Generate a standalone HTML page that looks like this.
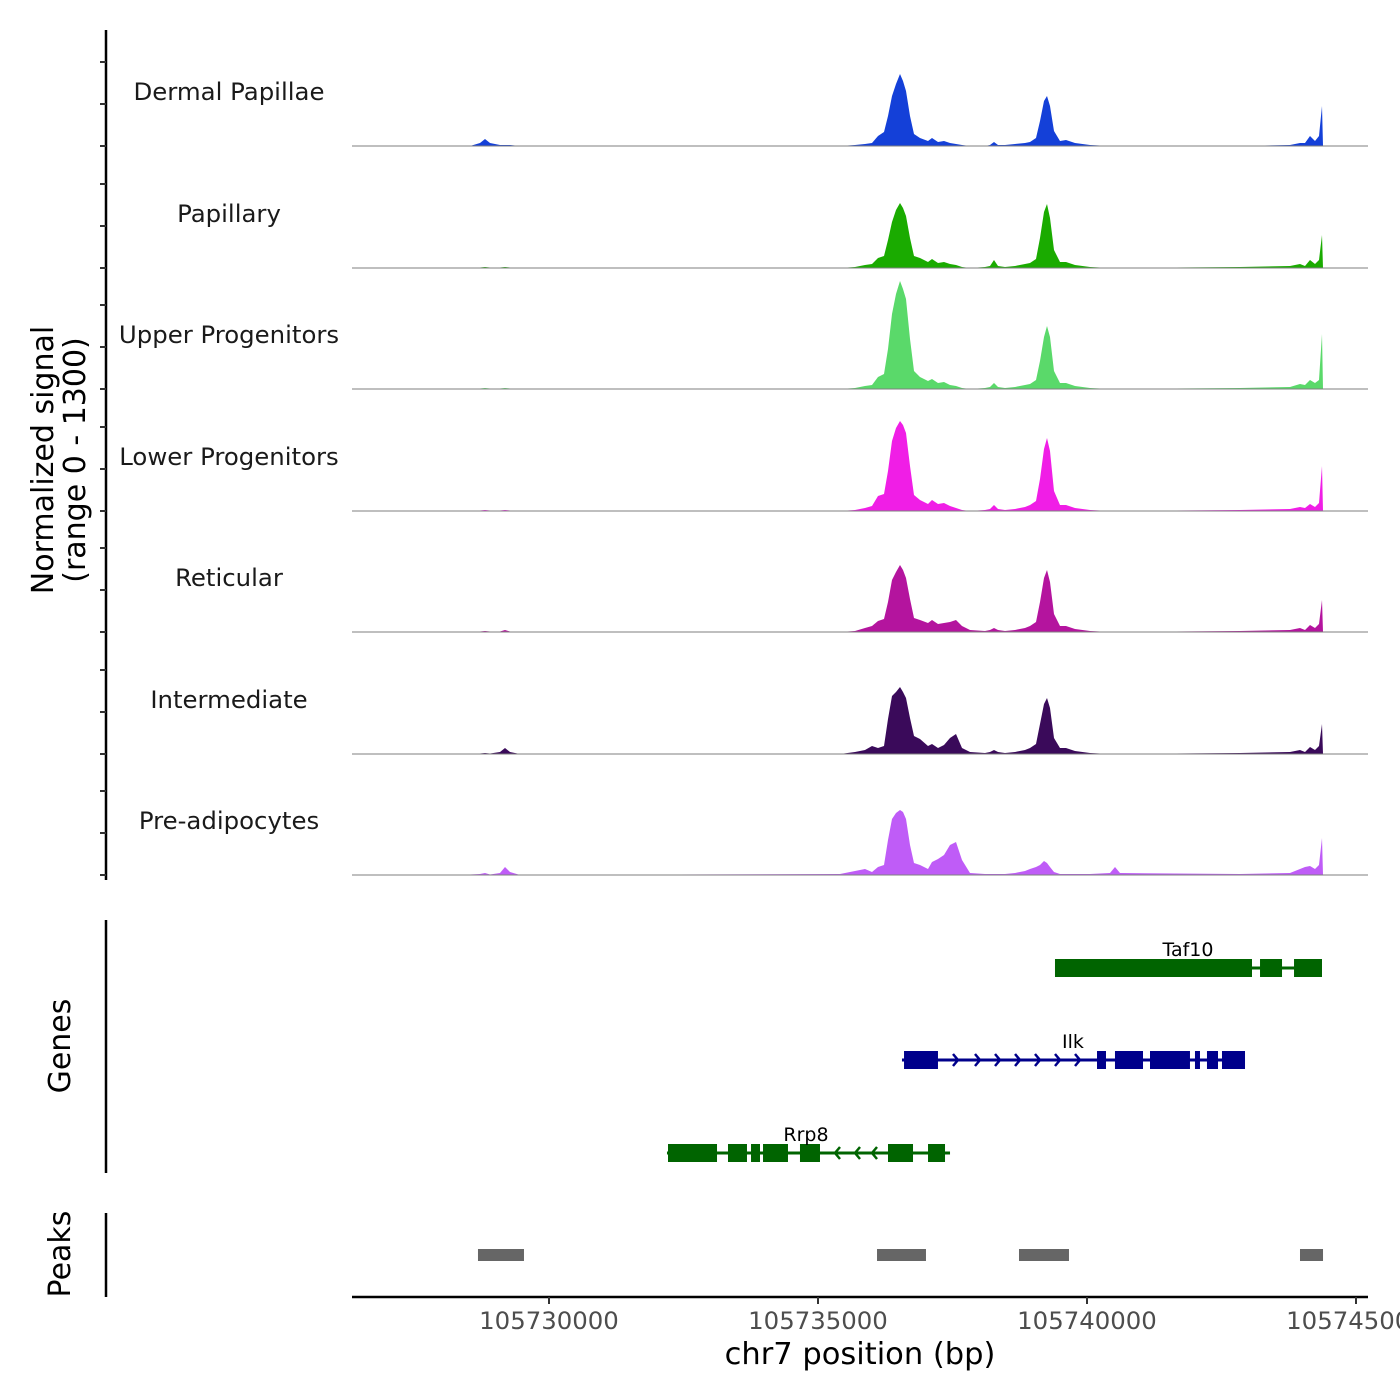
<!DOCTYPE html>
<html><head><meta charset="utf-8">
<style>
html,body{margin:0;padding:0;background:#fff;}
svg{display:block;font-family:"DejaVu Sans","Liberation Sans",sans-serif;}
</style></head>
<body>
<svg id="chart" width="1400" height="1400" viewBox="0 0 1400 1400" xmlns="http://www.w3.org/2000/svg">
<g id="tracks"></g>
<g id="genes"></g>
<g id="peaks"></g>
<g id="axes"></g>
</svg>
<script>
// ---- data (positions as bp offsets from 105730000) ----
const BASE = 105730000;
const positions = [-3662,-1468,-1283,-1190,-1097,-911,-818,-725,-539,5409,5688,5874,6004,6115,6227,6301,6375,6450,6524,6580,6636,6710,6784,6896,7045,7119,7230,7342,7454,7565,7677,7825,8104,8197,8271,8346,8476,8662,8848,8941,9052,9126,9201,9257,9312,9387,9498,9610,9777,10056,10428,10520,10613,12844,13773,13959,14052,14145,14238,14312,14368,14387,15223];
const trackNames = ["Dermal Papillae","Papillary","Upper Progenitors","Lower Progenitors","Reticular","Intermediate","Pre-adipocytes"];
const trackColors = ["#1440d8","#1aab00","#5ad96a","#f01ee6","#b4149e","#3a0a5a","#bf5cf7"];
const sigDermal = [0,0,30,70,30,10,10,10,0,0,10,20,30,100,140,300,500,620,720,650,550,300,120,80,50,80,40,50,30,20,10,0,0,10,40,10,10,20,30,40,80,250,450,500,400,150,50,60,30,10,0,0,0,0,10,30,30,100,50,100,400,0,0];
const sigPapillary = [0,0,5,10,5,5,10,5,0,0,10,30,40,100,120,280,460,580,650,600,520,300,120,100,60,90,50,60,40,30,10,0,10,20,80,20,10,20,40,50,90,300,560,640,500,180,60,60,30,10,0,0,0,10,20,40,20,80,40,80,330,0,0];
const sigUpper = [0,0,5,10,5,5,10,5,0,0,10,30,40,120,150,400,750,950,1080,1000,900,500,180,120,80,100,60,70,40,30,10,0,10,20,60,20,10,20,40,50,90,280,520,630,520,180,60,60,30,10,0,0,0,10,20,50,40,90,60,90,550,0,0];
const sigLower = [0,0,5,10,5,5,10,5,0,0,10,30,50,150,170,400,700,830,900,860,780,450,160,110,70,110,70,80,50,30,10,0,10,20,60,20,10,20,40,60,100,320,620,730,600,200,60,60,30,10,0,0,0,10,20,40,30,70,40,80,450,0,0];
const sigReticular = [0,0,5,10,5,5,20,5,0,0,10,40,60,110,130,300,520,600,670,620,540,330,140,120,90,120,80,90,100,120,60,20,10,20,40,20,10,20,40,60,100,300,540,620,500,180,60,60,30,10,0,0,0,10,20,40,20,70,40,80,320,0,0];
const sigIntermediate = [0,0,5,10,5,20,60,20,0,0,20,40,80,60,80,350,580,620,670,620,560,360,180,150,80,100,60,90,160,200,60,20,10,20,40,20,10,20,40,60,100,300,500,560,460,160,60,60,30,10,0,0,0,10,20,40,20,70,40,80,300,0,0];
const sigPreadip = [0,5,10,20,5,20,80,30,0,10,40,60,30,80,100,350,560,620,650,630,560,300,120,100,60,130,160,200,300,330,150,20,10,10,10,10,10,20,40,60,80,100,140,120,80,30,10,10,10,10,20,80,20,10,20,60,80,90,60,100,370,0,0];
const trackSignals = [sigDermal,sigPapillary,sigUpper,sigLower,sigReticular,sigIntermediate,sigPreadip];
const xTicks = [0,5000,10000,15000];
const xTickLabels = ["105730000","105735000","105740000","105745000"];
const peakStarts = [-1320,6097,8736,13959];
const peakEnds = [-465,7007,9665,14387];
const geneNames = ["Taf10","Ilk","Rrp8"];
const geneStarts = [9405,6561,2193];
const geneEnds = [14368,12937,7454];
const geneExons = [
  [[9405,13067],[13216,13625],[13848,14368]],
  [[6599,7230],[10186,10353],[10520,11041],[11171,11914],[12007,12100],[12230,12435],[12509,12937]],
  [[2212,3123],[3327,3680],[3755,3922],[3978,4442],[4665,5037],[6301,6766],[7045,7361]]
];
const geneArrows = [[],[7602,8011,8383,8755,9126,9498,9870],[5316,5688,6004]];
const geneStrand = ["+","+","-"];

// ---- scales ----
const NS = "http://www.w3.org/2000/svg";
const X0 = 352, X1 = 1368;
function xs(bp){ return 549 + bp*0.0538; }
const baselines = [146,268,389,511,632,754,875];
const TRACK_H = 121.5, YMAX = 1215;
function ys(v, b){ return b - v/YMAX*TRACK_H; }
function mk(tag, attrs, parent){ const e=document.createElementNS(NS,tag); for(const k in attrs) e.setAttribute(k,attrs[k]); parent.appendChild(e); return e; }

// ---- signal tracks ----
const tg = document.getElementById('tracks');
trackNames.forEach((name,i)=>{
  const b = baselines[i];
  const sig = trackSignals[i];
  let d = `M${xs(positions[0])},${b}`;
  positions.forEach((p,j)=>{ d += ` L${xs(p).toFixed(1)},${ys(sig[j],b).toFixed(1)}`; });
  d += ` L${xs(positions[positions.length-1])},${b} Z`;
  const a = mk('path',{d:d,fill:trackColors[i]},tg);
  
  
  const ln = mk('line',{x1:X0,x2:X1,y1:b,y2:b,stroke:'#7f7f7f','stroke-width':1},tg);
  
  
  const t = mk('text',{x:229,y:b-46,'text-anchor':'middle','font-size':24.4,fill:'#1a1a1a'},tg);
  t.textContent = name;
  
  
});

// ---- genes ----
const gg = document.getElementById('genes');
const geneY = [968,1060,1153];
const geneColors = ["#006400","#00008b","#006400"];
const labelX = [1188,1073,806];
geneNames.forEach((g,i)=>{
  const y = geneY[i], c = geneColors[i];
  const grp = mk('g',{},gg);
  
  
  mk('line',{x1:xs(geneStarts[i]),x2:xs(geneEnds[i]),y1:y,y2:y,stroke:c,'stroke-width':3},grp);
  geneExons[i].forEach(ex=>{
    const r = mk('rect',{x:xs(ex[0]),y:y-9,width:xs(ex[1])-xs(ex[0]),height:18,fill:c},grp);
    
    
  });
  geneArrows[i].forEach(p=>{
    const x = xs(p), dx = geneStrand[i]==='+'?5:-5;
    mk('polyline',{points:`${x-dx},${y-6} ${x},${y} ${x-dx},${y+6}`,fill:'none',stroke:c,'stroke-width':2.5},grp);
  });
  const lbl = mk('text',{x:labelX[i],y:y-12,'text-anchor':'middle','font-size':19,fill:'#000'},grp);
  lbl.textContent = g;
  
  
});

// ---- peaks ----
const pg = document.getElementById('peaks');
peakStarts.forEach((s,i)=>{
  const r = mk('rect',{x:xs(s),y:1249,width:xs(peakEnds[i])-xs(s),height:12,fill:'#666666'},pg);
  
  
});

// ---- axes ----
const ag = document.getElementById('axes');
mk('line',{x1:106,x2:106,y1:30,y2:880,stroke:'#000','stroke-width':2.5},ag);
baselines.forEach(b=>{
  [0,42,84].forEach(o=>{ mk('line',{x1:100,x2:106,y1:b-o,y2:b-o,stroke:'#333','stroke-width':2},ag); });
});
mk('line',{x1:106,x2:106,y1:920,y2:1173,stroke:'#000','stroke-width':2.5},ag);
mk('line',{x1:106,x2:106,y1:1213,y2:1297,stroke:'#000','stroke-width':2.5},ag);
mk('line',{x1:X0,x2:X1,y1:1297,y2:1297,stroke:'#000','stroke-width':2.5},ag);
xTicks.forEach((t,i)=>{
  const x = xs(t);
  mk('line',{x1:x,x2:x,y1:1297,y2:1304,stroke:'#333','stroke-width':2},ag);
  const tl = mk('text',{x:x,y:1329,'text-anchor':'middle','font-size':24.4,fill:'#4d4d4d'},ag);
  tl.textContent = xTickLabels[i];
  
  
});
</script>
<svg style="position:absolute;left:0;top:0" width="1400" height="1400">
<text x="860" y="1364" text-anchor="middle" font-size="30.5" font-family="DejaVu Sans, Liberation Sans, sans-serif" fill="#000">chr7 position (bp)</text>
<text transform="translate(53,460) rotate(-90)" text-anchor="middle" font-size="30" font-family="DejaVu Sans, Liberation Sans, sans-serif" fill="#000">Normalized signal</text>
<text transform="translate(85,460) rotate(-90)" text-anchor="middle" font-size="30" font-family="DejaVu Sans, Liberation Sans, sans-serif" fill="#000">(range 0 - 1300)</text>
<text transform="translate(70,1046) rotate(-90)" text-anchor="middle" font-size="30" font-family="DejaVu Sans, Liberation Sans, sans-serif" fill="#000">Genes</text>
<text transform="translate(70,1254) rotate(-90)" text-anchor="middle" font-size="30" font-family="DejaVu Sans, Liberation Sans, sans-serif" fill="#000">Peaks</text>
</svg>
</body></html>
